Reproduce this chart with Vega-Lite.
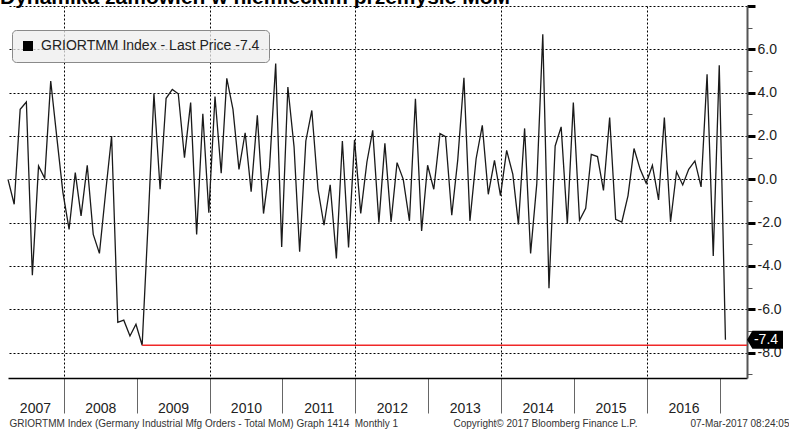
{
  "$schema": "https://vega.github.io/schema/vega-lite/v6.json",
  "width": 739,
  "height": 372,
  "autosize": "none",
  "padding": {"left": 8, "top": 6, "right": 42, "bottom": 51},
  "background": "white",
  "config": {"view": {"stroke": null}, "font": "Liberation Sans"},
  "data": {"values": [
    {"date": "2007-03-28", "value": 0.0},
    {"date": "2007-04-28", "value": -1.15},
    {"date": "2007-05-28", "value": 3.23},
    {"date": "2007-06-28", "value": 3.57},
    {"date": "2007-07-28", "value": -4.43},
    {"date": "2007-08-28", "value": 0.62},
    {"date": "2007-09-28", "value": 0.05},
    {"date": "2007-10-28", "value": 4.54},
    {"date": "2007-11-28", "value": 1.9},
    {"date": "2007-12-28", "value": -0.6},
    {"date": "2008-01-28", "value": -2.31},
    {"date": "2008-02-28", "value": 0.31},
    {"date": "2008-03-28", "value": -1.69},
    {"date": "2008-04-28", "value": 0.65},
    {"date": "2008-05-28", "value": -2.54},
    {"date": "2008-06-28", "value": -3.42},
    {"date": "2008-07-28", "value": -0.7},
    {"date": "2008-08-28", "value": 2.0},
    {"date": "2008-09-28", "value": -6.6},
    {"date": "2008-10-28", "value": -6.5},
    {"date": "2008-11-28", "value": -7.23},
    {"date": "2008-12-28", "value": -6.69},
    {"date": "2009-01-28", "value": -7.66},
    {"date": "2009-02-28", "value": -1.8},
    {"date": "2009-03-28", "value": 3.95},
    {"date": "2009-04-28", "value": -0.46},
    {"date": "2009-05-28", "value": 3.74},
    {"date": "2009-06-28", "value": 4.15},
    {"date": "2009-07-28", "value": 3.95},
    {"date": "2009-08-28", "value": 1.0},
    {"date": "2009-09-28", "value": 3.54},
    {"date": "2009-10-28", "value": -2.54},
    {"date": "2009-11-28", "value": 3.03},
    {"date": "2009-12-28", "value": -1.54},
    {"date": "2010-01-28", "value": 3.82},
    {"date": "2010-02-28", "value": 0.28},
    {"date": "2010-03-28", "value": 4.66},
    {"date": "2010-04-28", "value": 3.23},
    {"date": "2010-05-28", "value": 0.46},
    {"date": "2010-06-28", "value": 2.15},
    {"date": "2010-07-28", "value": -0.57},
    {"date": "2010-08-28", "value": 2.95},
    {"date": "2010-09-28", "value": -1.58},
    {"date": "2010-10-28", "value": 0.54},
    {"date": "2010-11-28", "value": 5.34},
    {"date": "2010-12-28", "value": -3.12},
    {"date": "2011-01-28", "value": 4.26},
    {"date": "2011-02-28", "value": 1.5},
    {"date": "2011-03-28", "value": -3.34},
    {"date": "2011-04-28", "value": 1.77},
    {"date": "2011-05-28", "value": 3.18},
    {"date": "2011-06-28", "value": -0.46},
    {"date": "2011-07-28", "value": -2.12},
    {"date": "2011-08-28", "value": -0.25},
    {"date": "2011-09-28", "value": -3.65},
    {"date": "2011-10-28", "value": 1.77},
    {"date": "2011-11-28", "value": -3.15},
    {"date": "2011-12-28", "value": 1.82},
    {"date": "2012-01-28", "value": -1.57},
    {"date": "2012-02-28", "value": 0.8},
    {"date": "2012-03-28", "value": 2.26},
    {"date": "2012-04-28", "value": -2.0},
    {"date": "2012-05-28", "value": 1.66},
    {"date": "2012-06-28", "value": -1.97},
    {"date": "2012-07-28", "value": 0.77},
    {"date": "2012-08-28", "value": 0.0},
    {"date": "2012-09-28", "value": -1.92},
    {"date": "2012-10-28", "value": 3.72},
    {"date": "2012-11-28", "value": -2.38},
    {"date": "2012-12-28", "value": 0.65},
    {"date": "2013-01-28", "value": -0.46},
    {"date": "2013-02-28", "value": 2.11},
    {"date": "2013-03-28", "value": 1.97},
    {"date": "2013-04-28", "value": -1.66},
    {"date": "2013-05-28", "value": 0.9},
    {"date": "2013-06-28", "value": 4.69},
    {"date": "2013-07-28", "value": -1.92},
    {"date": "2013-08-28", "value": 0.95},
    {"date": "2013-09-28", "value": 2.49},
    {"date": "2013-10-28", "value": -0.69},
    {"date": "2013-11-28", "value": 0.88},
    {"date": "2013-12-28", "value": -0.75},
    {"date": "2014-01-28", "value": 1.34},
    {"date": "2014-02-28", "value": 0.23},
    {"date": "2014-03-28", "value": -2.08},
    {"date": "2014-04-28", "value": 2.35},
    {"date": "2014-05-28", "value": -3.42},
    {"date": "2014-06-28", "value": -0.2},
    {"date": "2014-07-28", "value": 6.69},
    {"date": "2014-08-28", "value": -5.03},
    {"date": "2014-09-28", "value": 1.54},
    {"date": "2014-10-28", "value": 2.42},
    {"date": "2014-11-28", "value": -2.05},
    {"date": "2014-12-28", "value": 3.54},
    {"date": "2015-01-28", "value": -1.89},
    {"date": "2015-02-28", "value": -1.34},
    {"date": "2015-03-28", "value": 1.15},
    {"date": "2015-04-28", "value": 1.05},
    {"date": "2015-05-28", "value": -0.51},
    {"date": "2015-06-28", "value": 2.85},
    {"date": "2015-07-28", "value": -1.85},
    {"date": "2015-08-28", "value": -1.97},
    {"date": "2015-09-28", "value": -0.75},
    {"date": "2015-10-28", "value": 1.42},
    {"date": "2015-11-28", "value": 0.46},
    {"date": "2015-12-28", "value": -0.18},
    {"date": "2016-01-28", "value": 0.65},
    {"date": "2016-02-28", "value": -0.95},
    {"date": "2016-03-28", "value": 2.85},
    {"date": "2016-04-28", "value": -1.97},
    {"date": "2016-05-28", "value": 0.35},
    {"date": "2016-06-28", "value": -0.26},
    {"date": "2016-07-28", "value": 0.46},
    {"date": "2016-08-28", "value": 0.85},
    {"date": "2016-09-28", "value": -0.35},
    {"date": "2016-10-28", "value": 4.85},
    {"date": "2016-11-28", "value": -3.54},
    {"date": "2016-12-28", "value": 5.26},
    {"date": "2017-01-28", "value": -7.4}
  ]},
  "resolve": {"axis": {"x": "independent", "y": "independent"}},
  "layer": [
    {
      "mark": {"type": "line", "strokeWidth": 1.3},
      "encoding": {
        "x": {
          "field": "date", "type": "temporal",
          "scale": {"type": "utc", "domain": [{"year": 2007, "month": 3, "date": 28, "utc": true}, {"year": 2017, "month": 5, "date": 16, "utc": true}]},
          "axis": {
            "orient": "bottom",
            "values": [
              {"year": 2008, "month": 1, "date": 1, "utc": true},
              {"year": 2009, "month": 1, "date": 1, "utc": true},
              {"year": 2010, "month": 1, "date": 1, "utc": true},
              {"year": 2011, "month": 1, "date": 1, "utc": true},
              {"year": 2012, "month": 1, "date": 1, "utc": true},
              {"year": 2013, "month": 1, "date": 1, "utc": true},
              {"year": 2014, "month": 1, "date": 1, "utc": true},
              {"year": 2015, "month": 1, "date": 1, "utc": true},
              {"year": 2016, "month": 1, "date": 1, "utc": true},
              {"year": 2017, "month": 1, "date": 1, "utc": true}
            ],
            "labels": false,
            "ticks": true,
            "tickSize": 35,
            "tickColor": "#666666",
            "tickWidth": 1,
            "domain": true,
            "domainColor": "#000000",
            "domainWidth": 1.3,
            "grid": true,
            "gridColor": "#000000",
            "gridDash": [2, 2],
            "gridWidth": 1,
            "gridOpacity": {"condition": {"test": "utcyear(datum.value) % 2 == 0", "value": 1}, "value": 0},
            "title": "GRIORTMM Index (Germany Industrial Mfg Orders - Total MoM) Graph 1414\u00a0\u00a0Monthly 1",
            "titleX": 1,
            "titleY": 48,
            "titleAlign": "left",
            "titleAnchor": "start",
            "titleBaseline": "alphabetic",
            "titleFont": "Liberation Sans",
            "titleFontSize": 10,
            "titleFontWeight": "normal",
            "titleColor": "#333333",
            "titleLimit": 500
          }
        },
        "y": {
          "field": "value", "type": "quantitative",
          "scale": {"domain": [-9.17, 8.0], "nice": false, "zero": false},
          "axis": {
            "orient": "right",
            "values": [-8, -6, -4, -2, 0, 2, 4, 6, 8],
            "format": ".1f",
            "domainColor": "#555555",
            "domainWidth": 2,
            "tickSize": 8,
            "tickWidth": 3,
            "tickColor": "#000000",
            "labelExpr": "datum.label == '8.0' ? '' : replace(datum.label, '−', '-')",
            "labelFont": "Liberation Sans",
            "labelFontSize": 14,
            "labelColor": "#222222",
            "labelPadding": 2,
            "labelBaseline": "middle",
            "labelFlush": false,
            "labelOverlap": false,
            "grid": true,
            "gridColor": "#000000",
            "gridDash": [2, 2],
            "gridWidth": 1,
            "title": "07-Mar-2017 08:24:05",
            "titleAngle": 0,
            "titleX": -57,
            "titleY": 420,
            "titleAlign": "left",
            "titleBaseline": "alphabetic",
            "titleFont": "Liberation Sans",
            "titleFontSize": 10,
            "titleFontWeight": "normal",
            "titleColor": "#333333"
          }
        },
        "color": {
          "datum": "GRIORTMM Index - Last Price -7.4",
          "scale": {"range": ["#1a1a1a"]},
          "legend": {
            "orient": "none",
            "legendX": 4,
            "legendY": 24,
            "title": null,
            "padding": 9,
            "fillColor": "rgba(238,238,238,0.75)",
            "strokeColor": "#8a8a8a",
            "cornerRadius": 4,
            "labelFont": "Liberation Sans",
            "labelFontSize": 14,
            "labelColor": "#222222",
            "labelOffset": 6,
            "labelLimit": 400,
            "symbolType": "square",
            "symbolSize": 100,
            "encode": {"symbols": {"update": {"fill": {"value": "#000000"}, "stroke": {"value": "#000000"}, "strokeWidth": {"value": 0}}}}
          }
        }
      }
    },
    {
      "transform": [
        {"joinaggregate": [{"op": "min", "field": "value", "as": "minv"}]},
        {"filter": "datum.value == datum.minv"}
      ],
      "mark": {"type": "rule", "color": "#f02828", "strokeWidth": 1.5},
      "encoding": {
        "x": {
          "field": "date", "type": "temporal",
          "scale": {"type": "utc", "domain": [{"year": 2007, "month": 3, "date": 28, "utc": true}, {"year": 2017, "month": 5, "date": 16, "utc": true}]},
          "axis": {
            "orient": "bottom",
            "values": [
              {"year": 2007, "month": 8, "date": 10, "utc": true},
              {"year": 2008, "month": 7, "date": 2, "utc": true},
              {"year": 2009, "month": 7, "date": 2, "utc": true},
              {"year": 2010, "month": 7, "date": 2, "utc": true},
              {"year": 2011, "month": 7, "date": 2, "utc": true},
              {"year": 2012, "month": 7, "date": 2, "utc": true},
              {"year": 2013, "month": 7, "date": 2, "utc": true},
              {"year": 2014, "month": 7, "date": 2, "utc": true},
              {"year": 2015, "month": 7, "date": 2, "utc": true},
              {"year": 2016, "month": 7, "date": 2, "utc": true}
            ],
            "ticks": false,
            "domain": false,
            "grid": false,
            "labelExpr": "utcFormat(datum.value, '%Y')",
            "labelFont": "Liberation Sans",
            "labelFontSize": 14,
            "labelColor": "#222222",
            "labelPadding": 34,
            "labelBaseline": "alphabetic",
            "labelFlush": false,
            "labelOverlap": false,
            "title": "Copyright© 2017 Bloomberg Finance L.P.",
            "titleX": 445,
            "titleY": 48,
            "titleAlign": "left",
            "titleAnchor": "start",
            "titleBaseline": "alphabetic",
            "titleFont": "Liberation Sans",
            "titleFontSize": 10,
            "titleFontWeight": "normal",
            "titleColor": "#333333"
          }
        },
        "x2": {"datum": {"year": 2017, "month": 5, "date": 16, "utc": true}},
        "y": {
          "field": "value", "type": "quantitative",
          "scale": {"domain": [-9.17, 8.0], "nice": false, "zero": false},
          "axis": {
            "orient": "right",
            "values": [-9, -7, -5, -3, -1, 1, 3, 5, 7],
            "domain": false,
            "labels": false,
            "grid": false,
            "ticks": true,
            "tickSize": 5,
            "tickWidth": 1,
            "tickColor": "#555555",
            "title": null
          }
        }
      }
    },
    {
      "transform": [
        {"joinaggregate": [{"op": "count", "as": "n"}]},
        {"window": [{"op": "row_number", "as": "rn"}]},
        {"filter": "datum.rn == datum.n"}
      ],
      "mark": {"type": "point", "shape": "M0,0L0.3,-0.5L2,-0.5L2,0.5L0.3,0.5Z", "filled": true, "color": "#000000", "size": 1296, "opacity": 1, "strokeWidth": 0},
      "encoding": {
        "x": {"datum": {"year": 2017, "month": 5, "date": 16, "utc": true}, "type": "temporal", "scale": {"type": "utc", "domain": [{"year": 2007, "month": 3, "date": 28, "utc": true}, {"year": 2017, "month": 5, "date": 16, "utc": true}]}, "axis": null},
        "y": {"field": "value", "type": "quantitative", "scale": {"domain": [-9.17, 8.0], "nice": false, "zero": false}, "axis": null}
      }
    },
    {
      "transform": [
        {"joinaggregate": [{"op": "count", "as": "n"}]},
        {"window": [{"op": "row_number", "as": "rn"}]},
        {"filter": "datum.rn == datum.n"}
      ],
      "mark": {"type": "text", "color": "#ffffff", "font": "Liberation Sans", "fontSize": 14, "align": "center", "baseline": "middle", "dx": 19},
      "encoding": {
        "x": {"datum": {"year": 2017, "month": 5, "date": 16, "utc": true}, "type": "temporal", "scale": {"type": "utc", "domain": [{"year": 2007, "month": 3, "date": 28, "utc": true}, {"year": 2017, "month": 5, "date": 16, "utc": true}]}, "axis": null},
        "y": {"field": "value", "type": "quantitative", "scale": {"domain": [-9.17, 8.0], "nice": false, "zero": false}, "axis": null},
        "text": {"field": "value", "type": "nominal"}
      }
    },
    {
      "data": {"values": [{}]},
      "mark": {"type": "text", "text": "Dynamika zamówień w niemieckim przemyśle MoM", "font": "Liberation Sans", "fontWeight": "bold", "fontSize": 21, "align": "left", "baseline": "alphabetic", "dx": -8, "color": "#000000"},
      "encoding": {
        "x": {"datum": {"year": 2007, "month": 3, "date": 28, "utc": true}, "type": "temporal", "scale": {"type": "utc", "domain": [{"year": 2007, "month": 3, "date": 28, "utc": true}, {"year": 2017, "month": 5, "date": 16, "utc": true}]}, "axis": null},
        "y": {"datum": 8.11, "type": "quantitative", "scale": {"domain": [-9.17, 8.0], "nice": false, "zero": false}, "axis": null}
      }
    }
  ]
}
